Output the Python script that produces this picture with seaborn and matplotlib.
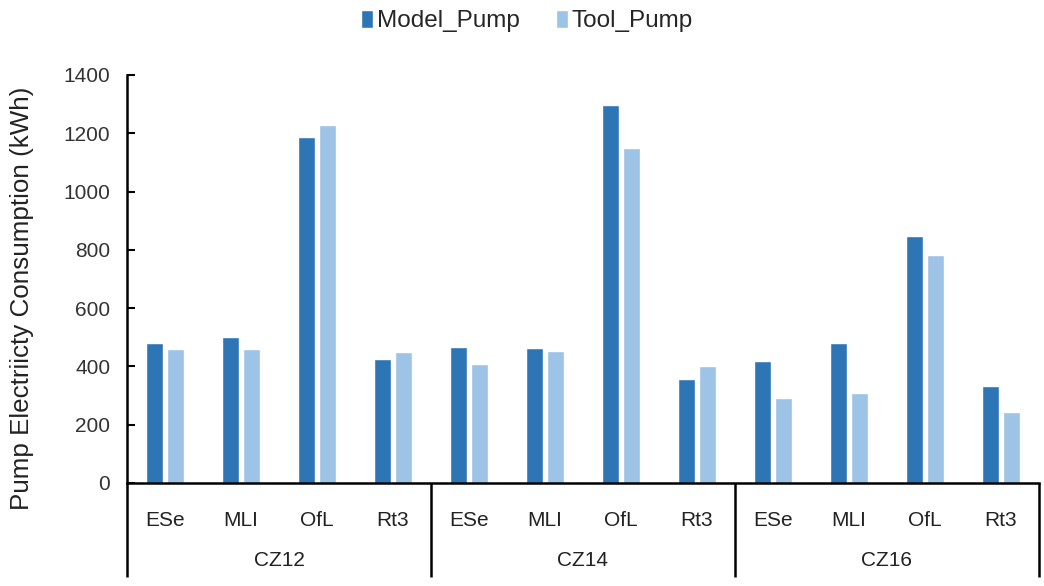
import matplotlib
matplotlib.use("Agg")
import matplotlib.pyplot as plt
import matplotlib.transforms as mtransforms
import seaborn as sns
import pandas as pd

# ---- data ----
zones = ["CZ12", "CZ14", "CZ16"]
buildings = ["ESe", "MLI", "OfL", "Rt3"]
series_names = ["Model_Pump", "Tool_Pump"]
model_pump = [482, 501, 1187, 427, 468, 463, 1297, 357, 417, 482, 848, 333]
tool_pump = [459, 459, 1228, 450, 408, 454, 1149, 403, 292, 310, 783, 245]
y_ticks = [0, 200, 400, 600, 800, 1000, 1200, 1400]
colors = ["#2E75B6", "#9DC3E6"]

labels = [f"{z}|{b}" for z in zones for b in buildings]
df = pd.DataFrame({
    "cat": labels * 2,
    "value": model_pump + tool_pump,
    "series": [series_names[0]] * len(labels) + [series_names[1]] * len(labels),
})

sns.set_theme(style="white")
plt.rcParams["font.family"] = ["Liberation Sans", "DejaVu Sans"]

W, H = 1044, 586
fig = plt.figure(figsize=(W / 100, H / 100), dpi=100)
left, right, bottom, top = 127, 1039, 483, 75
ax = fig.add_axes([left / W, (H - bottom) / H, (right - left) / W, (bottom - top) / H])

sns.barplot(data=df, x="cat", y="value", hue="series", order=labels,
            hue_order=series_names, palette=colors, width=0.56, gap=0.2,
            saturation=1, ax=ax, legend=True)

ax.set_ylim(0, 1400)
ax.set_xlim(-0.5, len(labels) - 0.5)
ax.set_yticks(y_ticks)
ax.set_yticklabels([str(t) for t in y_ticks], fontsize=15, color="#333333")
ax.tick_params(axis="y", direction="in", length=6, width=1.5, color="black", pad=12, left=True)
ax.set_xticks(range(len(labels)))
ax.set_xticklabels([l.split("|")[1] for l in labels], fontsize=15, color="#222222")
ax.tick_params(axis="x", length=0, pad=20)
ax.set_xlabel("")
ax.set_ylabel("")
fig.text(22 / W, 1 - 298.5 / H, "Pump Electriicty Consumption (kWh)", rotation=90,
         ha="center", va="center", fontsize=18.7, color="#222222")

for s in ["top", "right"]:
    ax.spines[s].set_visible(False)
for s in ["left", "bottom"]:
    ax.spines[s].set_color("black")
    ax.spines[s].set_linewidth(1.8)

# group separators and labels
trans = mtransforms.blended_transform_factory(ax.transData, ax.transAxes)
axh = bottom - top
depth = (577 - bottom) / axh
for i in range(len(zones) + 1):
    xpos = i * len(buildings) - 0.5
    ax.plot([xpos, xpos], [0, -depth], transform=trans, color="black", lw=1.8,
            clip_on=False, solid_capstyle="butt")
for i, z in enumerate(zones):
    xc = i * len(buildings) + (len(buildings) - 1) / 2
    ax.text(xc, -(560 - bottom) / axh, z, transform=trans, ha="center", va="center",
            fontsize=15, color="#222222")

# legend
handles, lbls = ax.get_legend_handles_labels()
ax.get_legend().remove()
fig.legend(handles, lbls, loc="center", bbox_to_anchor=(527 / W, 1 - 21 / H), ncol=2,
           frameon=False, fontsize=17.5, handlelength=0.5, handleheight=0.8,
           handletextpad=0.15, columnspacing=1.5)

fig.savefig("out.png", dpi=100)
